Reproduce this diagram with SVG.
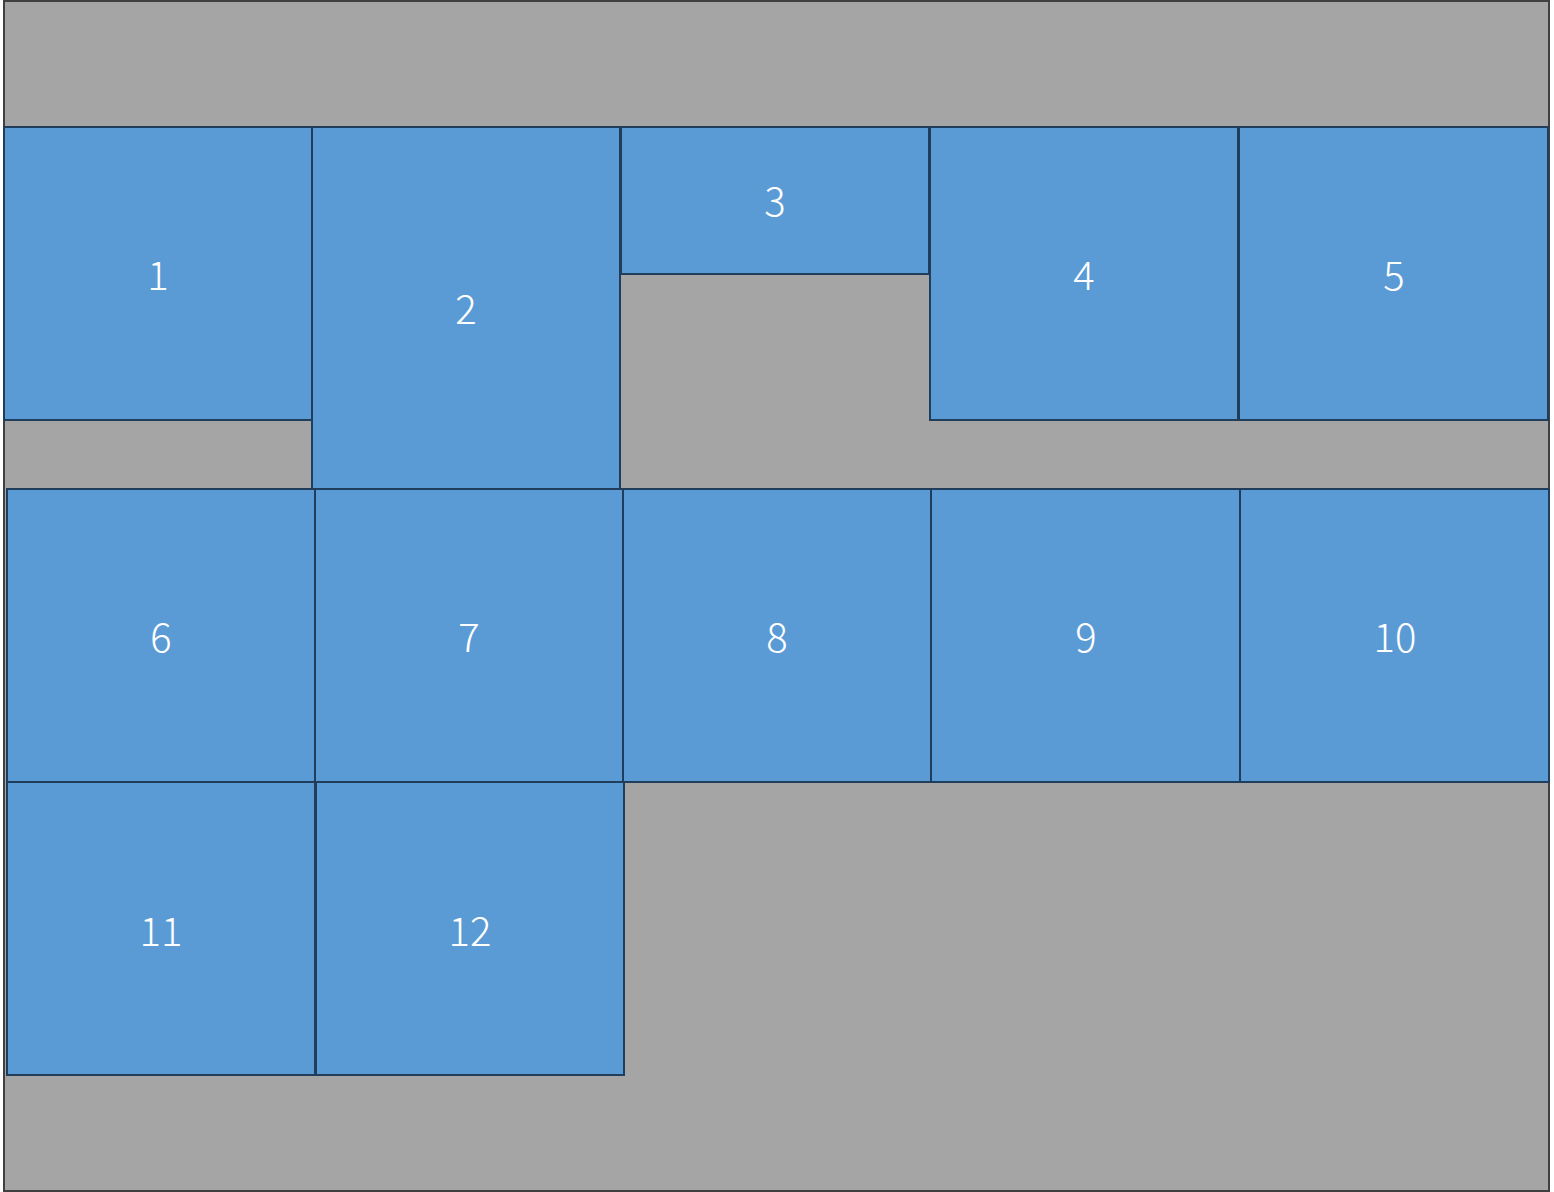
<svg xmlns="http://www.w3.org/2000/svg" width="1554" height="1192" viewBox="0 0 1554 1192">
<style>
.bg{fill:#A5A5A5;stroke:#404040;stroke-width:2}
.n rect{fill:#5B9BD5;stroke:#203D5C;stroke-width:2}
.n text{fill:#FFFFFF;font-family:"Noto Sans CJK SC","Noto Sans",sans-serif;font-size:40px;font-weight:300;text-anchor:middle}
</style>
<rect class="bg" x="4" y="1" width="1545" height="1190"/>
<g id="nodes">
<g id="n1" class="n"><rect x="4" y="127" width="308" height="293"/><text x="158" y="290">1</text></g>
<g id="n2" class="n"><rect x="312" y="127" width="308" height="362"/><text x="466" y="324">2</text></g>
<g id="n3" class="n"><rect x="621" y="127" width="308" height="147"/><text x="775" y="216">3</text></g>
<g id="n4" class="n"><rect x="930" y="127" width="308" height="293"/><text x="1084" y="290">4</text></g>
<g id="n5" class="n"><rect x="1239" y="127" width="309" height="293"/><text x="1394" y="290">5</text></g>
<g id="n6" class="n"><rect x="7" y="489" width="308" height="293"/><text x="161" y="652">6</text></g>
<g id="n7" class="n"><rect x="315" y="489" width="308" height="293"/><text x="469" y="652">7</text></g>
<g id="n8" class="n"><rect x="623" y="489" width="308" height="293"/><text x="777" y="652">8</text></g>
<g id="n9" class="n"><rect x="931" y="489" width="309" height="293"/><text x="1086" y="652">9</text></g>
<g id="n10" class="n"><rect x="1240" y="489" width="309" height="293"/><text x="1395" y="652">10</text></g>
<g id="n11" class="n"><rect x="7" y="782" width="308" height="293"/><text x="161" y="946">11</text></g>
<g id="n12" class="n"><rect x="316" y="782" width="308" height="293"/><text x="470" y="946">12</text></g>
</g>
<g id="connectors"/>
</svg>
